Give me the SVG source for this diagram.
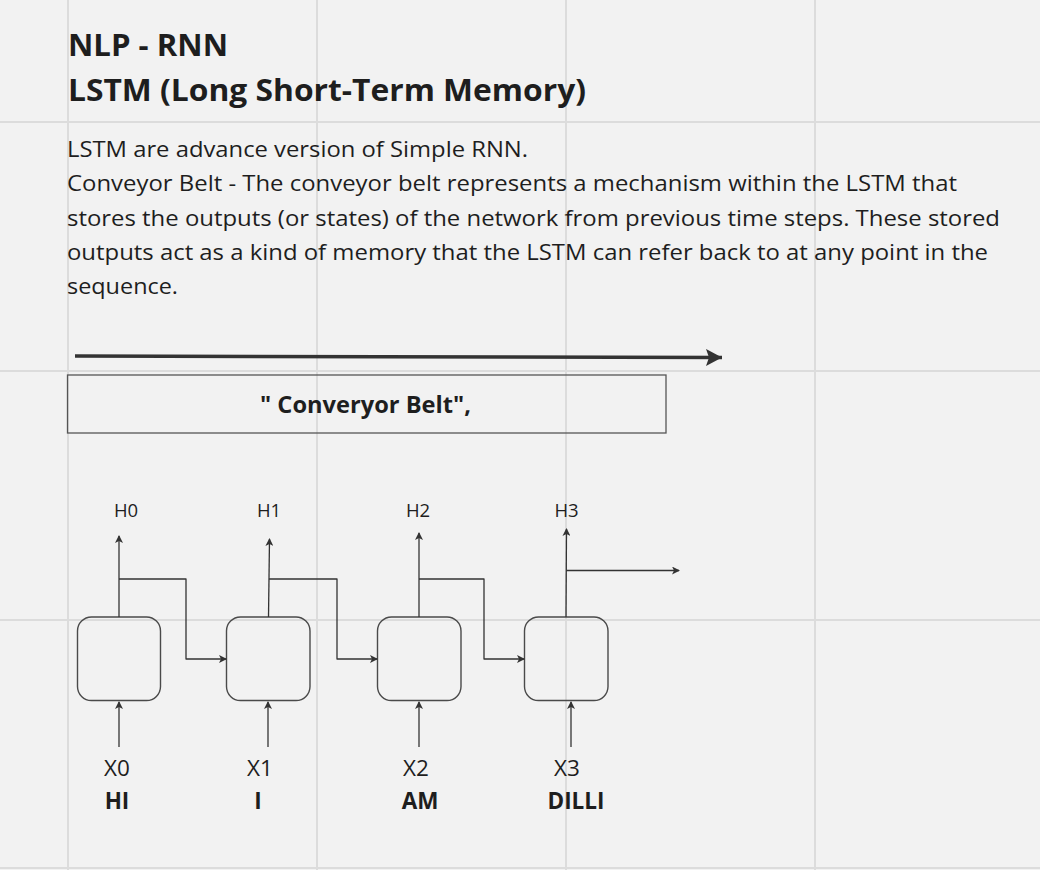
<svg xmlns="http://www.w3.org/2000/svg" width="1040" height="870" viewBox="0 0 1040 870">
<style>
.grid{stroke:#dcdcdc;stroke-width:2}
.t{font-family:"Open Sans","Noto Sans",sans-serif;fill:#1e1e1e}
.title{font-size:31px;font-weight:700}
.body{font-size:22px}
.lbl{font-size:18.5px;text-anchor:middle}
.x{font-size:22.5px;text-anchor:middle}
.w{font-size:22.5px;font-weight:700;text-anchor:middle}
.cell{fill:none;stroke:#4a4a4a;stroke-width:1.4}
.con{fill:none;stroke:#333;stroke-width:1.3;stroke-linejoin:round}
</style>
<defs>
<marker id="ah" markerWidth="8" markerHeight="8" refX="7" refY="4" orient="auto" markerUnits="userSpaceOnUse">
<path d="M0,0 L8,4 L0,8 L2,4 Z" fill="#333"/>
</marker>
<marker id="big" markerWidth="17" markerHeight="17" refX="16" refY="8.5" orient="auto" markerUnits="userSpaceOnUse">
<path d="M0,0 L16,8.5 L0,17 L3,8.5 Z" fill="#333"/>
</marker>
</defs>
<rect width="1040" height="870" fill="#f2f2f2"/>
<g id="grid">
<line class="grid" x1="68" y1="0" x2="68" y2="870"/>
<line class="grid" x1="317" y1="0" x2="317" y2="870"/>
<line class="grid" x1="566" y1="0" x2="566" y2="870"/>
<line class="grid" x1="815" y1="0" x2="815" y2="870"/>
<line class="grid" x1="0" y1="122" x2="1040" y2="122"/>
<line class="grid" x1="0" y1="371" x2="1040" y2="371"/>
<line class="grid" x1="0" y1="620" x2="1040" y2="620"/>
<line class="grid" x1="0" y1="868" x2="1040" y2="868"/>
</g>
<g id="title">
<text class="t title" x="68" y="56" textLength="160" lengthAdjust="spacingAndGlyphs">NLP - RNN</text>
<text class="t title" x="68" y="101" textLength="518" lengthAdjust="spacingAndGlyphs">LSTM (Long Short-Term Memory)</text>
</g>
<g id="description">
<text class="t body" x="67" y="157" textLength="461" lengthAdjust="spacingAndGlyphs">LSTM are advance version of Simple RNN.</text>
<text class="t body" x="67" y="191" textLength="890" lengthAdjust="spacingAndGlyphs">Conveyor Belt - The conveyor belt represents a mechanism within the LSTM that</text>
<text class="t body" x="67" y="226" textLength="933" lengthAdjust="spacingAndGlyphs">stores the outputs (or states) of the network from previous time steps. These stored</text>
<text class="t body" x="67" y="260" textLength="921" lengthAdjust="spacingAndGlyphs">outputs act as a kind of memory that the LSTM can refer back to at any point in the</text>
<text class="t body" x="67" y="294" textLength="111" lengthAdjust="spacingAndGlyphs">sequence.</text>
</g>
<g id="belt-arrow">
<line x1="75" y1="356" x2="722" y2="357.5" stroke="#333" stroke-width="3.5" marker-end="url(#big)"/>
</g>
<g id="belt">
<rect x="67.5" y="375" width="598.5" height="58" fill="none" stroke="#555" stroke-width="1.3"/>
<text class="t" x="260" y="413" font-size="23" font-weight="700" textLength="211" lengthAdjust="spacingAndGlyphs">" Converyor Belt",</text>
</g>
<g id="cell0">
<rect class="cell" x="77.5" y="617" width="83" height="83.5" rx="14"/>
<text class="t lbl" x="126" y="517">H0</text>
<text class="t x" x="117" y="776">X0</text>
<text class="t w" x="117" y="809">HI</text>
</g>
<g id="cell1">
<rect class="cell" x="226.5" y="617" width="83.5" height="83.5" rx="14"/>
<text class="t lbl" x="269" y="517">H1</text>
<text class="t x" x="260" y="776">X1</text>
<text class="t w" x="258" y="809">I</text>
</g>
<g id="cell2">
<rect class="cell" x="377.5" y="617" width="83.5" height="83.5" rx="14"/>
<text class="t lbl" x="418" y="517">H2</text>
<text class="t x" x="416" y="776">X2</text>
<text class="t w" x="420" y="809">AM</text>
</g>
<g id="cell3">
<rect class="cell" x="524.5" y="617" width="83.5" height="83.5" rx="14"/>
<text class="t lbl" x="566.5" y="517">H3</text>
<text class="t x" x="567" y="776">X3</text>
<text class="t w" x="576" y="809">DILLI</text>
</g>
<g id="connectors">
<line class="con" x1="119" y1="617" x2="119" y2="536" marker-end="url(#ah)"/>
<line class="con" x1="268.5" y1="617" x2="269.5" y2="539" marker-end="url(#ah)"/>
<line class="con" x1="419" y1="617" x2="419" y2="533" marker-end="url(#ah)"/>
<line class="con" x1="566" y1="617" x2="566.5" y2="529" marker-end="url(#ah)"/>
<path class="con" d="M119,579 H186 V659 H226" marker-end="url(#ah)"/>
<path class="con" d="M269,579 H337 V659 H377" marker-end="url(#ah)"/>
<path class="con" d="M419,579 H484 V659 H524" marker-end="url(#ah)"/>
<path class="con" d="M566.5,570.5 H679" marker-end="url(#ah)"/>
<line class="con" x1="119" y1="747" x2="119" y2="702" marker-end="url(#ah)"/>
<line class="con" x1="268" y1="747" x2="268" y2="702" marker-end="url(#ah)"/>
<line class="con" x1="419" y1="747" x2="419" y2="702" marker-end="url(#ah)"/>
<line class="con" x1="571" y1="747" x2="571" y2="702" marker-end="url(#ah)"/>
</g>
</svg>
